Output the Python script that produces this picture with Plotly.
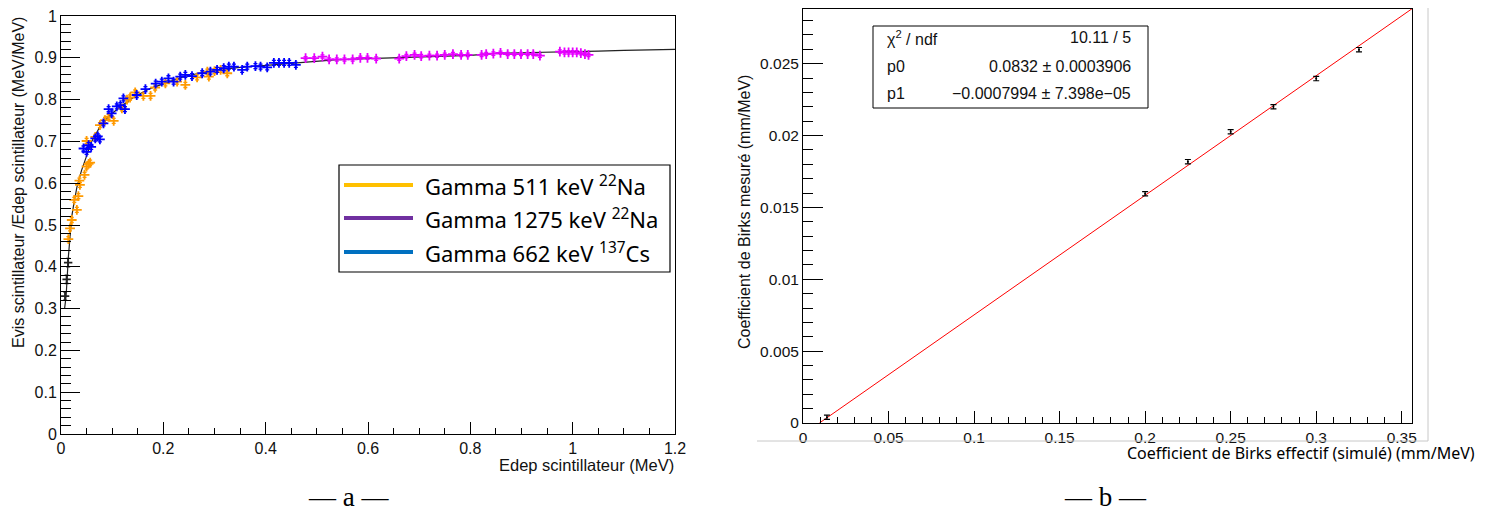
import plotly.graph_objects as go

# page has an 8px body margin: figure placed at (8, 8) inside a 1486x515 window
OFF = 8
W, H = 1486 - 2 * OFF, 515 - 2 * OFF

# ---------------- Data: panel a ----------------
na511_x = [0.0144, 0.0176, 0.021, 0.026, 0.031, 0.034, 0.036, 0.037, 0.046, 0.050, 0.054, 0.057,
           0.050, 0.067, 0.076, 0.086, 0.093, 0.103, 0.119, 0.129, 0.135, 0.145, 0.161, 0.175,
           0.184, 0.204, 0.227, 0.243, 0.266, 0.286, 0.289, 0.312, 0.325, 0.300]
na511_y = [0.466, 0.492, 0.512, 0.560, 0.536, 0.569, 0.606, 0.596, 0.620, 0.640, 0.646, 0.649,
           0.701, 0.711, 0.739, 0.751, 0.759, 0.749, 0.779, 0.800, 0.805, 0.817, 0.809, 0.809,
           0.829, 0.839, 0.843, 0.835, 0.853, 0.867, 0.855, 0.871, 0.863, 0.868]

cs662_x = [0.044, 0.050, 0.054, 0.059, 0.067, 0.072, 0.076, 0.083, 0.093, 0.099, 0.109, 0.116,
           0.122, 0.125, 0.148, 0.165, 0.185, 0.197, 0.210, 0.220, 0.233, 0.243, 0.256, 0.276,
           0.292, 0.305, 0.318, 0.328, 0.338, 0.354, 0.364, 0.380, 0.390, 0.403, 0.416, 0.426,
           0.436, 0.446, 0.459]
cs662_y = [0.683, 0.675, 0.691, 0.687, 0.707, 0.712, 0.705, 0.743, 0.777, 0.767, 0.784, 0.787,
           0.803, 0.777, 0.811, 0.825, 0.838, 0.843, 0.851, 0.843, 0.855, 0.859, 0.856, 0.863,
           0.867, 0.871, 0.875, 0.879, 0.879, 0.871, 0.879, 0.880, 0.879, 0.877, 0.888, 0.888,
           0.888, 0.888, 0.883]

na1275_x = [0.478, 0.495, 0.511, 0.524, 0.539, 0.554, 0.570, 0.585, 0.599, 0.616, 0.661, 0.675,
            0.691, 0.704, 0.720, 0.735, 0.750, 0.766, 0.782, 0.795, 0.822, 0.831, 0.845, 0.859,
            0.873, 0.886, 0.899, 0.912, 0.923, 0.936, 0.975, 0.984, 0.992, 1.000, 1.008, 1.016,
            1.024, 1.031]
na1275_y = [0.899, 0.899, 0.903, 0.896, 0.896, 0.896, 0.896, 0.900, 0.900, 0.898, 0.898, 0.904,
            0.907, 0.904, 0.905, 0.905, 0.907, 0.909, 0.907, 0.907, 0.907, 0.909, 0.910, 0.912,
            0.909, 0.909, 0.909, 0.909, 0.909, 0.905, 0.915, 0.913, 0.913, 0.913, 0.913, 0.911,
            0.909, 0.907]

low_x = [0.008, 0.011, 0.014]
low_y = [0.33, 0.37, 0.41]

curve_x = [0.007, 0.010, 0.0144, 0.018, 0.021, 0.025, 0.031, 0.040, 0.050, 0.060, 0.076, 0.095,
           0.116, 0.145, 0.175, 0.210, 0.240, 0.270, 0.305, 0.350, 0.403, 0.460, 0.534, 0.600,
           0.700, 0.800, 0.855, 0.950, 1.050, 1.100, 1.200]
curve_y = [0.30, 0.33, 0.424, 0.47, 0.52, 0.55, 0.590, 0.630, 0.665, 0.700, 0.735, 0.762,
           0.783, 0.808, 0.827, 0.842, 0.855, 0.863, 0.871, 0.877, 0.882, 0.887, 0.895, 0.898,
           0.902, 0.906, 0.911, 0.913, 0.916, 0.918, 0.920]

# ---------------- Data: panel b ----------------
birks_sim = [0.014, 0.200, 0.225, 0.250, 0.275, 0.300, 0.325]
birks_mes = [0.0004, 0.01595, 0.01818, 0.02026, 0.02200, 0.02396, 0.02597]
birks_err = [0.00015, 0.00015, 0.00015, 0.00015, 0.00015, 0.00015, 0.00015]
fit_p0 = 0.0832
fit_p1 = -0.0007994
fit_x = [-fit_p1 / fit_p0, 0.356]
fit_y = [fit_p0 * x + fit_p1 for x in fit_x]

stats_labels = ["χ<sup>2</sup> / ndf", "p0", "p1"]
stats_values = ["10.11 / 5", "0.0832 ± 0.0003906", "−0.0007994 ± 7.398e−05"]

legend_labels = ["Gamma 511 keV <sup>22</sup>Na", "Gamma 1275 keV <sup>22</sup>Na",
                 "Gamma 662 keV <sup>137</sup>Cs"]
legend_colors = ["#FFC000", "#7030A0", "#0070C0"]


def px(x):
    return (x - OFF) / W


def py(y):
    return 1 - (y - OFF) / H


fig = go.Figure()


def add_pts(xs, ys, color, err, size=7):
    fig.add_trace(go.Scatter(
        x=xs, y=ys, xaxis="x", yaxis="y", mode="markers", showlegend=False,
        marker=dict(symbol="cross-thin", size=size, line=dict(color=color, width=1.8), color=color),
        error_y=dict(type="constant", value=err, color=color, thickness=1.3, width=2)))


fig.add_trace(go.Scatter(x=curve_x, y=curve_y, mode="lines", xaxis="x", yaxis="y",
                         line=dict(color="#222222", width=1.2), showlegend=False))
add_pts(low_x, low_y, "#222222", 0.01, size=6)
add_pts(na511_x, na511_y, "#FF9A00", 0.006)
add_pts(cs662_x, cs662_y, "#0000FF", 0.006)
add_pts(na1275_x, na1275_y, "#E600FF", 0.004)

# panel b
fig.add_trace(go.Scatter(x=fit_x, y=fit_y, mode="lines", xaxis="x2", yaxis="y2",
                         line=dict(color="#FF0000", width=1), showlegend=False))
fig.add_trace(go.Scatter(x=birks_sim, y=birks_mes, mode="markers", xaxis="x2", yaxis="y2",
                         marker=dict(size=2, color="black"),
                         error_y=dict(type="data", array=birks_err, color="black", thickness=1.2, width=3),
                         showlegend=False))

axis_font = dict(family="Liberation Sans, Arial", size=16, color="#111111")
axis_font_b = dict(family="Liberation Sans, Arial", size=15.5, color="#111111")

common = dict(showline=True, linecolor="black", linewidth=1, mirror=True, showgrid=False,
              zeroline=False, ticks="inside", tickcolor="black", automargin=False,
              ticklabeloverflow="allow")

fig.update_layout(
    width=W, height=H, margin=dict(l=0, r=0, t=0, b=0, autoexpand=False),
    paper_bgcolor="white", plot_bgcolor="white",
    xaxis=dict(domain=[px(61), px(675)], range=[0, 1.2], dtick=0.2, ticklen=12,
               minor=dict(dtick=0.05, ticklen=6, ticks="inside", tickcolor="black"),
               tickfont=axis_font, anchor="y", **common),
    yaxis=dict(domain=[py(434), py(16)], range=[0, 1], dtick=0.1, ticklen=19,
               minor=dict(dtick=0.02, ticklen=10, ticks="inside", tickcolor="black"),
               tickfont=axis_font, anchor="x", **common),
    xaxis2=dict(domain=[px(803), px(1412)], range=[0, 0.356], dtick=0.05, ticklen=12,
                minor=dict(dtick=0.01, ticklen=6, ticks="inside", tickcolor="black"),
                tickfont=axis_font_b, anchor="y2", **common),
    yaxis2=dict(domain=[py(423), py(9)], range=[0, 0.0288], dtick=0.005, ticklen=20,
                minor=dict(dtick=0.001, ticklen=10, ticks="inside", tickcolor="black"),
                tickfont=axis_font_b, anchor="x2", **common),
)

ann = []
shapes = []
root_font = dict(family="Liberation Sans, Arial", size=16, color="#111111")

# panel a x title
ann.append(dict(text="Edep scintillateur (MeV)", x=px(676), y=py(465), xref="paper", yref="paper",
                xanchor="right", yanchor="middle", showarrow=False,
                font=dict(family="Liberation Sans, Arial", size=16.5, color="#111111")))
# panel a y title (top-aligned like ROOT), written in two collinear pieces
ann.append(dict(text="(MeV/MeV)", x=px(18), y=py(15), xref="paper", yref="paper", textangle=-90,
                xanchor="center", yanchor="top", showarrow=False, font=root_font))
ann.append(dict(text="Evis scintillateur /Edep scintillateur", x=px(18), y=py(100), xref="paper",
                yref="paper", textangle=-90, xanchor="center", yanchor="top", showarrow=False,
                font=root_font))

# panel a legend (overlay box)
shapes.append(dict(type="rect", xref="paper", yref="paper", x0=px(339), x1=px(670), y0=py(272), y1=py(165),
                   line=dict(color="black", width=1.2), fillcolor="white", layer="above"))
legend_rows = [185, 218, 252]
for lab, col, ry in zip(legend_labels, legend_colors, legend_rows):
    shapes.append(dict(type="line", xref="paper", yref="paper", x0=px(344), x1=px(413), y0=py(ry), y1=py(ry),
                       line=dict(color=col, width=4), layer="above"))
    ann.append(dict(text=lab, x=px(423), y=py(ry), xref="paper", yref="paper", xanchor="left",
                    yanchor="middle", showarrow=False,
                    font=dict(family="Noto Sans, Open Sans", size=22, color="black")))

# panel b titles
ann.append(dict(text="Coefficient de Birks effectif (simulé) (mm/MeV)", x=px(1477), y=py(453),
                xref="paper", yref="paper", xanchor="right", yanchor="middle", showarrow=False,
                font=dict(family="Noto Sans, Open Sans", size=16, color="black")))
ann.append(dict(text="Coefficient de Birks mesuré (mm/MeV)", x=px(745), y=py(212), xref="paper",
                yref="paper", textangle=-90, xanchor="center", yanchor="middle", showarrow=False,
                font=root_font))

# stats box
shapes.append(dict(type="rect", xref="paper", yref="paper", x0=px(873), x1=px(1148), y0=py(108), y1=py(26),
                   line=dict(color="black", width=1), fillcolor="white", layer="above"))
stats_rows = [38, 66, 94]
for lab, val, ry in zip(stats_labels, stats_values, stats_rows):
    ann.append(dict(text=lab, x=px(885), y=py(ry), xref="paper", yref="paper", xanchor="left",
                    yanchor="middle", showarrow=False, font=root_font))
    ann.append(dict(text=val, x=px(1133), y=py(ry), xref="paper", yref="paper", xanchor="right",
                    yanchor="middle", showarrow=False, font=root_font))

# grey border of image b
shapes.append(dict(type="line", xref="paper", yref="paper", x0=px(1428), x1=px(1428), y0=py(441), y1=1,
                   line=dict(color="#C8C8C8", width=1)))
shapes.append(dict(type="line", xref="paper", yref="paper", x0=px(757), x1=px(1428), y0=py(441), y1=py(441),
                   line=dict(color="#C8C8C8", width=1)))

# captions
cap_font = dict(family="Liberation Serif, DejaVu Serif", size=27, color="black")
ann.append(dict(text="— a —", x=px(348), y=py(497), xref="paper", yref="paper", xanchor="center",
                yanchor="middle", showarrow=False, font=cap_font))
ann.append(dict(text="— b —", x=px(1105), y=py(497), xref="paper", yref="paper", xanchor="center",
                yanchor="middle", showarrow=False, font=cap_font))

fig.update_layout(annotations=ann, shapes=shapes)
fig.write_html("out.html")
